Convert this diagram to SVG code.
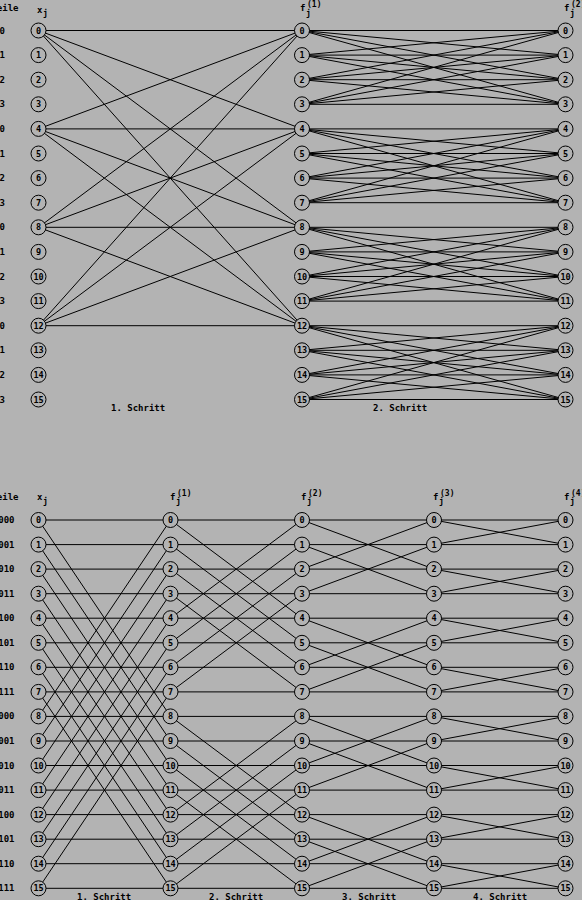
<svg xmlns="http://www.w3.org/2000/svg" width="582" height="900" viewBox="0 0 582 900">
<style>
.t{font-family:"DejaVu Sans Mono","Liberation Mono",monospace;font-weight:bold;font-size:9px;fill:#000}
.s{font-family:"DejaVu Sans Mono","Liberation Mono",monospace;font-weight:bold;font-size:8px;fill:#000}
.e{text-anchor:end}
.n circle{fill:#b3b3b3;stroke:#000;stroke-width:1}
.n text{font-family:"DejaVu Sans Mono","Liberation Mono",monospace;font-weight:bold;font-size:8.5px;text-anchor:middle;fill:#000}
#edges line{stroke:#000;stroke-width:1}
</style>
<rect x="0" y="0" width="582" height="900" fill="#b3b3b3"/>
<g id="edges">
<!-- top step 1 -->
<line x1="38.5" y1="30.5" x2="302" y2="30.5"/><line x1="38.5" y1="30.5" x2="302" y2="128.9"/><line x1="38.5" y1="30.5" x2="302" y2="227.3"/><line x1="38.5" y1="30.5" x2="302" y2="325.7"/>
<line x1="38.5" y1="128.9" x2="302" y2="30.5"/><line x1="38.5" y1="128.9" x2="302" y2="128.9"/><line x1="38.5" y1="128.9" x2="302" y2="227.3"/><line x1="38.5" y1="128.9" x2="302" y2="325.7"/>
<line x1="38.5" y1="227.3" x2="302" y2="30.5"/><line x1="38.5" y1="227.3" x2="302" y2="128.9"/><line x1="38.5" y1="227.3" x2="302" y2="227.3"/><line x1="38.5" y1="227.3" x2="302" y2="325.7"/>
<line x1="38.5" y1="325.7" x2="302" y2="30.5"/><line x1="38.5" y1="325.7" x2="302" y2="128.9"/><line x1="38.5" y1="325.7" x2="302" y2="227.3"/><line x1="38.5" y1="325.7" x2="302" y2="325.7"/>
<!-- top step 2 -->
<line x1="302" y1="30.5" x2="565.5" y2="30.5"/><line x1="302" y1="30.5" x2="565.5" y2="55.1"/><line x1="302" y1="30.5" x2="565.5" y2="79.7"/><line x1="302" y1="30.5" x2="565.5" y2="104.3"/>
<line x1="302" y1="55.1" x2="565.5" y2="30.5"/><line x1="302" y1="55.1" x2="565.5" y2="55.1"/><line x1="302" y1="55.1" x2="565.5" y2="79.7"/><line x1="302" y1="55.1" x2="565.5" y2="104.3"/>
<line x1="302" y1="79.7" x2="565.5" y2="30.5"/><line x1="302" y1="79.7" x2="565.5" y2="55.1"/><line x1="302" y1="79.7" x2="565.5" y2="79.7"/><line x1="302" y1="79.7" x2="565.5" y2="104.3"/>
<line x1="302" y1="104.3" x2="565.5" y2="30.5"/><line x1="302" y1="104.3" x2="565.5" y2="55.1"/><line x1="302" y1="104.3" x2="565.5" y2="79.7"/><line x1="302" y1="104.3" x2="565.5" y2="104.3"/>
<line x1="302" y1="128.9" x2="565.5" y2="128.9"/><line x1="302" y1="128.9" x2="565.5" y2="153.5"/><line x1="302" y1="128.9" x2="565.5" y2="178.1"/><line x1="302" y1="128.9" x2="565.5" y2="202.7"/>
<line x1="302" y1="153.5" x2="565.5" y2="128.9"/><line x1="302" y1="153.5" x2="565.5" y2="153.5"/><line x1="302" y1="153.5" x2="565.5" y2="178.1"/><line x1="302" y1="153.5" x2="565.5" y2="202.7"/>
<line x1="302" y1="178.1" x2="565.5" y2="128.9"/><line x1="302" y1="178.1" x2="565.5" y2="153.5"/><line x1="302" y1="178.1" x2="565.5" y2="178.1"/><line x1="302" y1="178.1" x2="565.5" y2="202.7"/>
<line x1="302" y1="202.7" x2="565.5" y2="128.9"/><line x1="302" y1="202.7" x2="565.5" y2="153.5"/><line x1="302" y1="202.7" x2="565.5" y2="178.1"/><line x1="302" y1="202.7" x2="565.5" y2="202.7"/>
<line x1="302" y1="227.3" x2="565.5" y2="227.3"/><line x1="302" y1="227.3" x2="565.5" y2="251.9"/><line x1="302" y1="227.3" x2="565.5" y2="276.5"/><line x1="302" y1="227.3" x2="565.5" y2="301.1"/>
<line x1="302" y1="251.9" x2="565.5" y2="227.3"/><line x1="302" y1="251.9" x2="565.5" y2="251.9"/><line x1="302" y1="251.9" x2="565.5" y2="276.5"/><line x1="302" y1="251.9" x2="565.5" y2="301.1"/>
<line x1="302" y1="276.5" x2="565.5" y2="227.3"/><line x1="302" y1="276.5" x2="565.5" y2="251.9"/><line x1="302" y1="276.5" x2="565.5" y2="276.5"/><line x1="302" y1="276.5" x2="565.5" y2="301.1"/>
<line x1="302" y1="301.1" x2="565.5" y2="227.3"/><line x1="302" y1="301.1" x2="565.5" y2="251.9"/><line x1="302" y1="301.1" x2="565.5" y2="276.5"/><line x1="302" y1="301.1" x2="565.5" y2="301.1"/>
<line x1="302" y1="325.7" x2="565.5" y2="325.7"/><line x1="302" y1="325.7" x2="565.5" y2="350.3"/><line x1="302" y1="325.7" x2="565.5" y2="374.9"/><line x1="302" y1="325.7" x2="565.5" y2="399.5"/>
<line x1="302" y1="350.3" x2="565.5" y2="325.7"/><line x1="302" y1="350.3" x2="565.5" y2="350.3"/><line x1="302" y1="350.3" x2="565.5" y2="374.9"/><line x1="302" y1="350.3" x2="565.5" y2="399.5"/>
<line x1="302" y1="374.9" x2="565.5" y2="325.7"/><line x1="302" y1="374.9" x2="565.5" y2="350.3"/><line x1="302" y1="374.9" x2="565.5" y2="374.9"/><line x1="302" y1="374.9" x2="565.5" y2="399.5"/>
<line x1="302" y1="399.5" x2="565.5" y2="325.7"/><line x1="302" y1="399.5" x2="565.5" y2="350.3"/><line x1="302" y1="399.5" x2="565.5" y2="374.9"/><line x1="302" y1="399.5" x2="565.5" y2="399.5"/>
<!-- bottom horizontals -->
<line x1="38.5" y1="520" x2="565.5" y2="520"/><line x1="38.5" y1="544.6" x2="565.5" y2="544.6"/><line x1="38.5" y1="569.1" x2="565.5" y2="569.1"/><line x1="38.5" y1="593.7" x2="565.5" y2="593.7"/>
<line x1="38.5" y1="618.2" x2="565.5" y2="618.2"/><line x1="38.5" y1="642.8" x2="565.5" y2="642.8"/><line x1="38.5" y1="667.3" x2="565.5" y2="667.3"/><line x1="38.5" y1="691.9" x2="565.5" y2="691.9"/>
<line x1="38.5" y1="716.4" x2="565.5" y2="716.4"/><line x1="38.5" y1="741" x2="565.5" y2="741"/><line x1="38.5" y1="765.5" x2="565.5" y2="765.5"/><line x1="38.5" y1="790.1" x2="565.5" y2="790.1"/>
<line x1="38.5" y1="814.6" x2="565.5" y2="814.6"/><line x1="38.5" y1="839.2" x2="565.5" y2="839.2"/><line x1="38.5" y1="863.7" x2="565.5" y2="863.7"/><line x1="38.5" y1="888.3" x2="565.5" y2="888.3"/>
<!-- bottom step 1 span 8 -->
<line x1="38.5" y1="520" x2="170.5" y2="716.4"/><line x1="38.5" y1="544.6" x2="170.5" y2="741"/><line x1="38.5" y1="569.1" x2="170.5" y2="765.5"/><line x1="38.5" y1="593.7" x2="170.5" y2="790.1"/>
<line x1="38.5" y1="618.2" x2="170.5" y2="814.6"/><line x1="38.5" y1="642.8" x2="170.5" y2="839.2"/><line x1="38.5" y1="667.3" x2="170.5" y2="863.7"/><line x1="38.5" y1="691.9" x2="170.5" y2="888.3"/>
<line x1="38.5" y1="716.4" x2="170.5" y2="520"/><line x1="38.5" y1="741" x2="170.5" y2="544.6"/><line x1="38.5" y1="765.5" x2="170.5" y2="569.1"/><line x1="38.5" y1="790.1" x2="170.5" y2="593.7"/>
<line x1="38.5" y1="814.6" x2="170.5" y2="618.2"/><line x1="38.5" y1="839.2" x2="170.5" y2="642.8"/><line x1="38.5" y1="863.7" x2="170.5" y2="667.3"/><line x1="38.5" y1="888.3" x2="170.5" y2="691.9"/>
<!-- bottom step 2 span 4 -->
<line x1="170.5" y1="520" x2="302" y2="618.2"/><line x1="170.5" y1="544.6" x2="302" y2="642.8"/><line x1="170.5" y1="569.1" x2="302" y2="667.3"/><line x1="170.5" y1="593.7" x2="302" y2="691.9"/>
<line x1="170.5" y1="618.2" x2="302" y2="520"/><line x1="170.5" y1="642.8" x2="302" y2="544.6"/><line x1="170.5" y1="667.3" x2="302" y2="569.1"/><line x1="170.5" y1="691.9" x2="302" y2="593.7"/>
<line x1="170.5" y1="716.4" x2="302" y2="814.6"/><line x1="170.5" y1="741" x2="302" y2="839.2"/><line x1="170.5" y1="765.5" x2="302" y2="863.7"/><line x1="170.5" y1="790.1" x2="302" y2="888.3"/>
<line x1="170.5" y1="814.6" x2="302" y2="716.4"/><line x1="170.5" y1="839.2" x2="302" y2="741"/><line x1="170.5" y1="863.7" x2="302" y2="765.5"/><line x1="170.5" y1="888.3" x2="302" y2="790.1"/>
<!-- bottom step 3 span 2 -->
<line x1="302" y1="520" x2="434" y2="569.1"/><line x1="302" y1="544.6" x2="434" y2="593.7"/><line x1="302" y1="569.1" x2="434" y2="520"/><line x1="302" y1="593.7" x2="434" y2="544.6"/>
<line x1="302" y1="618.2" x2="434" y2="667.3"/><line x1="302" y1="642.8" x2="434" y2="691.9"/><line x1="302" y1="667.3" x2="434" y2="618.2"/><line x1="302" y1="691.9" x2="434" y2="642.8"/>
<line x1="302" y1="716.4" x2="434" y2="765.5"/><line x1="302" y1="741" x2="434" y2="790.1"/><line x1="302" y1="765.5" x2="434" y2="716.4"/><line x1="302" y1="790.1" x2="434" y2="741"/>
<line x1="302" y1="814.6" x2="434" y2="863.7"/><line x1="302" y1="839.2" x2="434" y2="888.3"/><line x1="302" y1="863.7" x2="434" y2="814.6"/><line x1="302" y1="888.3" x2="434" y2="839.2"/>
<!-- bottom step 4 span 1 -->
<line x1="434" y1="520" x2="565.5" y2="544.6"/><line x1="434" y1="544.6" x2="565.5" y2="520"/><line x1="434" y1="569.1" x2="565.5" y2="593.7"/><line x1="434" y1="593.7" x2="565.5" y2="569.1"/>
<line x1="434" y1="618.2" x2="565.5" y2="642.8"/><line x1="434" y1="642.8" x2="565.5" y2="618.2"/><line x1="434" y1="667.3" x2="565.5" y2="691.9"/><line x1="434" y1="691.9" x2="565.5" y2="667.3"/>
<line x1="434" y1="716.4" x2="565.5" y2="741"/><line x1="434" y1="741" x2="565.5" y2="716.4"/><line x1="434" y1="765.5" x2="565.5" y2="790.1"/><line x1="434" y1="790.1" x2="565.5" y2="765.5"/>
<line x1="434" y1="814.6" x2="565.5" y2="839.2"/><line x1="434" y1="839.2" x2="565.5" y2="814.6"/><line x1="434" y1="863.7" x2="565.5" y2="888.3"/><line x1="434" y1="888.3" x2="565.5" y2="863.7"/>
</g>
<g id="labels">
<text class="t e" x="18.5" y="11">Zeile</text>
<text class="t" x="37" y="13">x</text><text class="s" x="43" y="16">j</text>
<text class="t" x="300" y="11">f</text><text class="s" x="306" y="16">j</text><text class="s" x="307" y="7">(1)</text>
<text class="t" x="564" y="11">f</text><text class="s" x="570" y="16">j</text><text class="s" x="571" y="7">(2)</text>
<text class="t" x="111" y="411">1. Schritt</text>
<text class="t" x="373" y="411">2. Schritt</text>
<text class="t e" x="5" y="33.5">00</text><text class="t e" x="5" y="58.1">01</text><text class="t e" x="5" y="82.7">02</text><text class="t e" x="5" y="107.3">03</text>
<text class="t e" x="5" y="131.9">10</text><text class="t e" x="5" y="156.5">11</text><text class="t e" x="5" y="181.1">12</text><text class="t e" x="5" y="205.7">13</text>
<text class="t e" x="5" y="230.3">20</text><text class="t e" x="5" y="254.9">21</text><text class="t e" x="5" y="279.5">22</text><text class="t e" x="5" y="304.1">23</text>
<text class="t e" x="5" y="328.7">30</text><text class="t e" x="5" y="353.3">31</text><text class="t e" x="5" y="377.9">32</text><text class="t e" x="5" y="402.5">33</text>
<text class="t e" x="18.5" y="500">Zeile</text>
<text class="t" x="37" y="500">x</text><text class="s" x="43" y="504">j</text>
<text class="t" x="170" y="500">f</text><text class="s" x="176" y="504">j</text><text class="s" x="177" y="496">(1)</text>
<text class="t" x="301" y="500">f</text><text class="s" x="307" y="504">j</text><text class="s" x="308" y="496">(2)</text>
<text class="t" x="433" y="500">f</text><text class="s" x="439" y="504">j</text><text class="s" x="440" y="496">(3)</text>
<text class="t" x="564" y="500">f</text><text class="s" x="570" y="504">j</text><text class="s" x="571" y="496">(4)</text>
<text class="t" x="77" y="900">1. Schritt</text>
<text class="t" x="209" y="900">2. Schritt</text>
<text class="t" x="342" y="900">3. Schritt</text>
<text class="t" x="473" y="900">4. Schritt</text>
<text class="t e" x="14.5" y="523">0000</text><text class="t e" x="14.5" y="547.6">0001</text><text class="t e" x="14.5" y="572.1">0010</text><text class="t e" x="14.5" y="596.7">0011</text>
<text class="t e" x="14.5" y="621.2">0100</text><text class="t e" x="14.5" y="645.8">0101</text><text class="t e" x="14.5" y="670.3">0110</text><text class="t e" x="14.5" y="694.9">0111</text>
<text class="t e" x="14.5" y="719.4">1000</text><text class="t e" x="14.5" y="744">1001</text><text class="t e" x="14.5" y="768.5">1010</text><text class="t e" x="14.5" y="793.1">1011</text>
<text class="t e" x="14.5" y="817.6">1100</text><text class="t e" x="14.5" y="842.2">1101</text><text class="t e" x="14.5" y="866.7">1110</text><text class="t e" x="14.5" y="891.3">1111</text>
</g>
<g id="top-x">
<g id="tx0" class="n" transform="translate(38.5,30.5)"><circle r="7.5"/><text y="3">0</text></g>
<g id="tx1" class="n" transform="translate(38.5,55.1)"><circle r="7.5"/><text y="3">1</text></g>
<g id="tx2" class="n" transform="translate(38.5,79.7)"><circle r="7.5"/><text y="3">2</text></g>
<g id="tx3" class="n" transform="translate(38.5,104.3)"><circle r="7.5"/><text y="3">3</text></g>
<g id="tx4" class="n" transform="translate(38.5,128.9)"><circle r="7.5"/><text y="3">4</text></g>
<g id="tx5" class="n" transform="translate(38.5,153.5)"><circle r="7.5"/><text y="3">5</text></g>
<g id="tx6" class="n" transform="translate(38.5,178.1)"><circle r="7.5"/><text y="3">6</text></g>
<g id="tx7" class="n" transform="translate(38.5,202.7)"><circle r="7.5"/><text y="3">7</text></g>
<g id="tx8" class="n" transform="translate(38.5,227.3)"><circle r="7.5"/><text y="3">8</text></g>
<g id="tx9" class="n" transform="translate(38.5,251.9)"><circle r="7.5"/><text y="3">9</text></g>
<g id="tx10" class="n" transform="translate(38.5,276.5)"><circle r="7.5"/><text y="3">10</text></g>
<g id="tx11" class="n" transform="translate(38.5,301.1)"><circle r="7.5"/><text y="3">11</text></g>
<g id="tx12" class="n" transform="translate(38.5,325.7)"><circle r="7.5"/><text y="3">12</text></g>
<g id="tx13" class="n" transform="translate(38.5,350.3)"><circle r="7.5"/><text y="3">13</text></g>
<g id="tx14" class="n" transform="translate(38.5,374.9)"><circle r="7.5"/><text y="3">14</text></g>
<g id="tx15" class="n" transform="translate(38.5,399.5)"><circle r="7.5"/><text y="3">15</text></g>
</g>
<g id="top-f1">
<g id="tf1_0" class="n" transform="translate(302,30.5)"><circle r="7.5"/><text y="3">0</text></g>
<g id="tf1_1" class="n" transform="translate(302,55.1)"><circle r="7.5"/><text y="3">1</text></g>
<g id="tf1_2" class="n" transform="translate(302,79.7)"><circle r="7.5"/><text y="3">2</text></g>
<g id="tf1_3" class="n" transform="translate(302,104.3)"><circle r="7.5"/><text y="3">3</text></g>
<g id="tf1_4" class="n" transform="translate(302,128.9)"><circle r="7.5"/><text y="3">4</text></g>
<g id="tf1_5" class="n" transform="translate(302,153.5)"><circle r="7.5"/><text y="3">5</text></g>
<g id="tf1_6" class="n" transform="translate(302,178.1)"><circle r="7.5"/><text y="3">6</text></g>
<g id="tf1_7" class="n" transform="translate(302,202.7)"><circle r="7.5"/><text y="3">7</text></g>
<g id="tf1_8" class="n" transform="translate(302,227.3)"><circle r="7.5"/><text y="3">8</text></g>
<g id="tf1_9" class="n" transform="translate(302,251.9)"><circle r="7.5"/><text y="3">9</text></g>
<g id="tf1_10" class="n" transform="translate(302,276.5)"><circle r="7.5"/><text y="3">10</text></g>
<g id="tf1_11" class="n" transform="translate(302,301.1)"><circle r="7.5"/><text y="3">11</text></g>
<g id="tf1_12" class="n" transform="translate(302,325.7)"><circle r="7.5"/><text y="3">12</text></g>
<g id="tf1_13" class="n" transform="translate(302,350.3)"><circle r="7.5"/><text y="3">13</text></g>
<g id="tf1_14" class="n" transform="translate(302,374.9)"><circle r="7.5"/><text y="3">14</text></g>
<g id="tf1_15" class="n" transform="translate(302,399.5)"><circle r="7.5"/><text y="3">15</text></g>
</g>
<g id="top-f2">
<g id="tf2_0" class="n" transform="translate(565.5,30.5)"><circle r="7.5"/><text y="3">0</text></g>
<g id="tf2_1" class="n" transform="translate(565.5,55.1)"><circle r="7.5"/><text y="3">1</text></g>
<g id="tf2_2" class="n" transform="translate(565.5,79.7)"><circle r="7.5"/><text y="3">2</text></g>
<g id="tf2_3" class="n" transform="translate(565.5,104.3)"><circle r="7.5"/><text y="3">3</text></g>
<g id="tf2_4" class="n" transform="translate(565.5,128.9)"><circle r="7.5"/><text y="3">4</text></g>
<g id="tf2_5" class="n" transform="translate(565.5,153.5)"><circle r="7.5"/><text y="3">5</text></g>
<g id="tf2_6" class="n" transform="translate(565.5,178.1)"><circle r="7.5"/><text y="3">6</text></g>
<g id="tf2_7" class="n" transform="translate(565.5,202.7)"><circle r="7.5"/><text y="3">7</text></g>
<g id="tf2_8" class="n" transform="translate(565.5,227.3)"><circle r="7.5"/><text y="3">8</text></g>
<g id="tf2_9" class="n" transform="translate(565.5,251.9)"><circle r="7.5"/><text y="3">9</text></g>
<g id="tf2_10" class="n" transform="translate(565.5,276.5)"><circle r="7.5"/><text y="3">10</text></g>
<g id="tf2_11" class="n" transform="translate(565.5,301.1)"><circle r="7.5"/><text y="3">11</text></g>
<g id="tf2_12" class="n" transform="translate(565.5,325.7)"><circle r="7.5"/><text y="3">12</text></g>
<g id="tf2_13" class="n" transform="translate(565.5,350.3)"><circle r="7.5"/><text y="3">13</text></g>
<g id="tf2_14" class="n" transform="translate(565.5,374.9)"><circle r="7.5"/><text y="3">14</text></g>
<g id="tf2_15" class="n" transform="translate(565.5,399.5)"><circle r="7.5"/><text y="3">15</text></g>
</g>
<g id="bot-x">
<g id="bx0" class="n" transform="translate(38.5,520)"><circle r="7.5"/><text y="3">0</text></g>
<g id="bx1" class="n" transform="translate(38.5,544.6)"><circle r="7.5"/><text y="3">1</text></g>
<g id="bx2" class="n" transform="translate(38.5,569.1)"><circle r="7.5"/><text y="3">2</text></g>
<g id="bx3" class="n" transform="translate(38.5,593.7)"><circle r="7.5"/><text y="3">3</text></g>
<g id="bx4" class="n" transform="translate(38.5,618.2)"><circle r="7.5"/><text y="3">4</text></g>
<g id="bx5" class="n" transform="translate(38.5,642.8)"><circle r="7.5"/><text y="3">5</text></g>
<g id="bx6" class="n" transform="translate(38.5,667.3)"><circle r="7.5"/><text y="3">6</text></g>
<g id="bx7" class="n" transform="translate(38.5,691.9)"><circle r="7.5"/><text y="3">7</text></g>
<g id="bx8" class="n" transform="translate(38.5,716.4)"><circle r="7.5"/><text y="3">8</text></g>
<g id="bx9" class="n" transform="translate(38.5,741)"><circle r="7.5"/><text y="3">9</text></g>
<g id="bx10" class="n" transform="translate(38.5,765.5)"><circle r="7.5"/><text y="3">10</text></g>
<g id="bx11" class="n" transform="translate(38.5,790.1)"><circle r="7.5"/><text y="3">11</text></g>
<g id="bx12" class="n" transform="translate(38.5,814.6)"><circle r="7.5"/><text y="3">12</text></g>
<g id="bx13" class="n" transform="translate(38.5,839.2)"><circle r="7.5"/><text y="3">13</text></g>
<g id="bx14" class="n" transform="translate(38.5,863.7)"><circle r="7.5"/><text y="3">14</text></g>
<g id="bx15" class="n" transform="translate(38.5,888.3)"><circle r="7.5"/><text y="3">15</text></g>
</g>
<g id="bot-f1">
<g id="bf1_0" class="n" transform="translate(170.5,520)"><circle r="7.5"/><text y="3">0</text></g>
<g id="bf1_1" class="n" transform="translate(170.5,544.6)"><circle r="7.5"/><text y="3">1</text></g>
<g id="bf1_2" class="n" transform="translate(170.5,569.1)"><circle r="7.5"/><text y="3">2</text></g>
<g id="bf1_3" class="n" transform="translate(170.5,593.7)"><circle r="7.5"/><text y="3">3</text></g>
<g id="bf1_4" class="n" transform="translate(170.5,618.2)"><circle r="7.5"/><text y="3">4</text></g>
<g id="bf1_5" class="n" transform="translate(170.5,642.8)"><circle r="7.5"/><text y="3">5</text></g>
<g id="bf1_6" class="n" transform="translate(170.5,667.3)"><circle r="7.5"/><text y="3">6</text></g>
<g id="bf1_7" class="n" transform="translate(170.5,691.9)"><circle r="7.5"/><text y="3">7</text></g>
<g id="bf1_8" class="n" transform="translate(170.5,716.4)"><circle r="7.5"/><text y="3">8</text></g>
<g id="bf1_9" class="n" transform="translate(170.5,741)"><circle r="7.5"/><text y="3">9</text></g>
<g id="bf1_10" class="n" transform="translate(170.5,765.5)"><circle r="7.5"/><text y="3">10</text></g>
<g id="bf1_11" class="n" transform="translate(170.5,790.1)"><circle r="7.5"/><text y="3">11</text></g>
<g id="bf1_12" class="n" transform="translate(170.5,814.6)"><circle r="7.5"/><text y="3">12</text></g>
<g id="bf1_13" class="n" transform="translate(170.5,839.2)"><circle r="7.5"/><text y="3">13</text></g>
<g id="bf1_14" class="n" transform="translate(170.5,863.7)"><circle r="7.5"/><text y="3">14</text></g>
<g id="bf1_15" class="n" transform="translate(170.5,888.3)"><circle r="7.5"/><text y="3">15</text></g>
</g>
<g id="bot-f2">
<g id="bf2_0" class="n" transform="translate(302,520)"><circle r="7.5"/><text y="3">0</text></g>
<g id="bf2_1" class="n" transform="translate(302,544.6)"><circle r="7.5"/><text y="3">1</text></g>
<g id="bf2_2" class="n" transform="translate(302,569.1)"><circle r="7.5"/><text y="3">2</text></g>
<g id="bf2_3" class="n" transform="translate(302,593.7)"><circle r="7.5"/><text y="3">3</text></g>
<g id="bf2_4" class="n" transform="translate(302,618.2)"><circle r="7.5"/><text y="3">4</text></g>
<g id="bf2_5" class="n" transform="translate(302,642.8)"><circle r="7.5"/><text y="3">5</text></g>
<g id="bf2_6" class="n" transform="translate(302,667.3)"><circle r="7.5"/><text y="3">6</text></g>
<g id="bf2_7" class="n" transform="translate(302,691.9)"><circle r="7.5"/><text y="3">7</text></g>
<g id="bf2_8" class="n" transform="translate(302,716.4)"><circle r="7.5"/><text y="3">8</text></g>
<g id="bf2_9" class="n" transform="translate(302,741)"><circle r="7.5"/><text y="3">9</text></g>
<g id="bf2_10" class="n" transform="translate(302,765.5)"><circle r="7.5"/><text y="3">10</text></g>
<g id="bf2_11" class="n" transform="translate(302,790.1)"><circle r="7.5"/><text y="3">11</text></g>
<g id="bf2_12" class="n" transform="translate(302,814.6)"><circle r="7.5"/><text y="3">12</text></g>
<g id="bf2_13" class="n" transform="translate(302,839.2)"><circle r="7.5"/><text y="3">13</text></g>
<g id="bf2_14" class="n" transform="translate(302,863.7)"><circle r="7.5"/><text y="3">14</text></g>
<g id="bf2_15" class="n" transform="translate(302,888.3)"><circle r="7.5"/><text y="3">15</text></g>
</g>
<g id="bot-f3">
<g id="bf3_0" class="n" transform="translate(434,520)"><circle r="7.5"/><text y="3">0</text></g>
<g id="bf3_1" class="n" transform="translate(434,544.6)"><circle r="7.5"/><text y="3">1</text></g>
<g id="bf3_2" class="n" transform="translate(434,569.1)"><circle r="7.5"/><text y="3">2</text></g>
<g id="bf3_3" class="n" transform="translate(434,593.7)"><circle r="7.5"/><text y="3">3</text></g>
<g id="bf3_4" class="n" transform="translate(434,618.2)"><circle r="7.5"/><text y="3">4</text></g>
<g id="bf3_5" class="n" transform="translate(434,642.8)"><circle r="7.5"/><text y="3">5</text></g>
<g id="bf3_6" class="n" transform="translate(434,667.3)"><circle r="7.5"/><text y="3">6</text></g>
<g id="bf3_7" class="n" transform="translate(434,691.9)"><circle r="7.5"/><text y="3">7</text></g>
<g id="bf3_8" class="n" transform="translate(434,716.4)"><circle r="7.5"/><text y="3">8</text></g>
<g id="bf3_9" class="n" transform="translate(434,741)"><circle r="7.5"/><text y="3">9</text></g>
<g id="bf3_10" class="n" transform="translate(434,765.5)"><circle r="7.5"/><text y="3">10</text></g>
<g id="bf3_11" class="n" transform="translate(434,790.1)"><circle r="7.5"/><text y="3">11</text></g>
<g id="bf3_12" class="n" transform="translate(434,814.6)"><circle r="7.5"/><text y="3">12</text></g>
<g id="bf3_13" class="n" transform="translate(434,839.2)"><circle r="7.5"/><text y="3">13</text></g>
<g id="bf3_14" class="n" transform="translate(434,863.7)"><circle r="7.5"/><text y="3">14</text></g>
<g id="bf3_15" class="n" transform="translate(434,888.3)"><circle r="7.5"/><text y="3">15</text></g>
</g>
<g id="bot-f4">
<g id="bf4_0" class="n" transform="translate(565.5,520)"><circle r="7.5"/><text y="3">0</text></g>
<g id="bf4_1" class="n" transform="translate(565.5,544.6)"><circle r="7.5"/><text y="3">1</text></g>
<g id="bf4_2" class="n" transform="translate(565.5,569.1)"><circle r="7.5"/><text y="3">2</text></g>
<g id="bf4_3" class="n" transform="translate(565.5,593.7)"><circle r="7.5"/><text y="3">3</text></g>
<g id="bf4_4" class="n" transform="translate(565.5,618.2)"><circle r="7.5"/><text y="3">4</text></g>
<g id="bf4_5" class="n" transform="translate(565.5,642.8)"><circle r="7.5"/><text y="3">5</text></g>
<g id="bf4_6" class="n" transform="translate(565.5,667.3)"><circle r="7.5"/><text y="3">6</text></g>
<g id="bf4_7" class="n" transform="translate(565.5,691.9)"><circle r="7.5"/><text y="3">7</text></g>
<g id="bf4_8" class="n" transform="translate(565.5,716.4)"><circle r="7.5"/><text y="3">8</text></g>
<g id="bf4_9" class="n" transform="translate(565.5,741)"><circle r="7.5"/><text y="3">9</text></g>
<g id="bf4_10" class="n" transform="translate(565.5,765.5)"><circle r="7.5"/><text y="3">10</text></g>
<g id="bf4_11" class="n" transform="translate(565.5,790.1)"><circle r="7.5"/><text y="3">11</text></g>
<g id="bf4_12" class="n" transform="translate(565.5,814.6)"><circle r="7.5"/><text y="3">12</text></g>
<g id="bf4_13" class="n" transform="translate(565.5,839.2)"><circle r="7.5"/><text y="3">13</text></g>
<g id="bf4_14" class="n" transform="translate(565.5,863.7)"><circle r="7.5"/><text y="3">14</text></g>
<g id="bf4_15" class="n" transform="translate(565.5,888.3)"><circle r="7.5"/><text y="3">15</text></g>
</g>
</svg>
